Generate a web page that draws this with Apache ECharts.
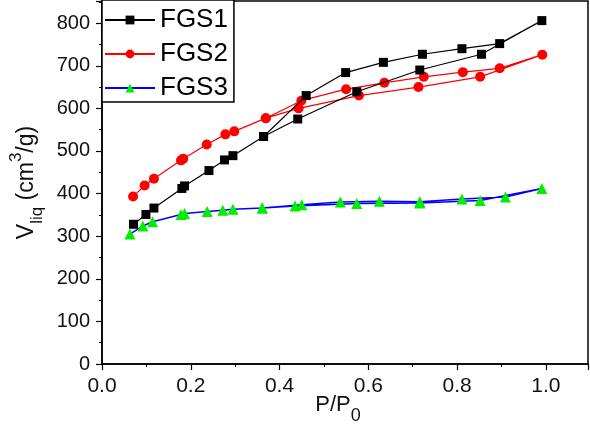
<!DOCTYPE html>
<html>
<head>
<meta charset="utf-8">
<script src="https://cdn.jsdelivr.net/npm/echarts@6/dist/echarts.min.js"></script>
<style>
html,body{margin:0;padding:0;background:#fff;}
#chart{width:590px;height:427px;}
</style>
</head>
<body>
<div id="chart"></div>
<script>
// FGS1: adsorption then desorption branch (x = P/P0, y = V_liq)
const fgs1X = [0.071, 0.099, 0.117, 0.180, 0.186, 0.241, 0.276, 0.295, 0.364, 0.441, 0.574, 0.716, 0.855, 0.991, 0.896, 0.811, 0.722, 0.634, 0.549, 0.460, 0.364];
const fgs1Y = [328, 351, 366, 412, 418, 454, 479, 489, 534, 575, 639, 690, 727, 806, 752, 740, 727, 708, 684, 630, 534];
const fgs2X = [0.070, 0.096, 0.117, 0.178, 0.183, 0.236, 0.278, 0.298, 0.369, 0.443, 0.579, 0.713, 0.852, 0.992, 0.896, 0.813, 0.725, 0.636, 0.550, 0.449, 0.369];
const fgs2Y = [393, 419, 435, 478, 482, 515, 539, 546, 577, 600, 630, 650, 674, 726, 694, 685, 674, 660, 645, 618, 577];
const fgs3X = [0.063, 0.092, 0.114, 0.178, 0.186, 0.237, 0.272, 0.295, 0.361, 0.435, 0.574, 0.716, 0.852, 0.991, 0.909, 0.811, 0.716, 0.625, 0.537, 0.450, 0.361];
const fgs3Y = [305, 324, 334, 351, 353, 358, 361, 363, 366, 371, 377, 378, 384, 412, 392, 387, 381, 382, 380, 374, 366];
const seriesNames = ['FGS1', 'FGS2', 'FGS3'];
const xTickLabels = ['0.0', '0.2', '0.4', '0.6', '0.8', '1.0'];

function pairs(xs, ys) { return xs.map((x, i) => [x, ys[i]]); }

const chart = echarts.init(document.getElementById('chart'), null, {renderer: 'canvas'});
const font = 'Liberation Sans, Arial, sans-serif';
const axisCommon = {
  axisLine: {show: true, onZero: false, lineStyle: {color: '#000', width: 1.5}},
  axisTick: {show: true, inside: false, length: 6, lineStyle: {color: '#000', width: 1.2}},
  minorTick: {show: true, splitNumber: 2, length: 3, lineStyle: {color: '#000', width: 1}},
  splitLine: {show: false},
  nameMoveOverlap: false
};
chart.setOption({
  animation: false,
  backgroundColor: '#fff',
  grid: {left: 102, right: 2, top: 1, bottom: 63, containLabel: false, outerBoundsMode: 'none',
    show: true, borderColor: '#000', borderWidth: 1.5, backgroundColor: 'transparent'},
  legend: {
    left: 102, top: 0, z: 10,
    orient: 'vertical',
    data: seriesNames,
    itemWidth: 50, itemHeight: 11, itemGap: 8,
    padding: [7, 6, 1, 2],
    borderColor: '#000', borderWidth: 1.5, borderRadius: 0,
    backgroundColor: '#fff',
    textStyle: {fontSize: 26, color: '#000', fontFamily: font}
  },
  xAxis: Object.assign({}, axisCommon, {
    type: 'value', min: 0, max: 1.095, interval: 0.2,
    axisLabel: {fontSize: 21, color: '#111', fontFamily: font, margin: 12, showMaxLabel: false,
      formatter: v => { const i = Math.round(v / 0.2); return Math.abs(v - i * 0.2) < 1e-6 ? xTickLabels[i] : ''; }},
    name: 'P/P{sub|0}', nameLocation: 'middle', nameGap: 21,
    nameTextStyle: {color: '#111', fontFamily: font, fontSize: 22, padding: [0, 14, 0, 0], lineHeight: 40,
      rich: {sub: {fontSize: 18, verticalAlign: 'bottom', lineHeight: 20, fontFamily: font, color: '#111'}}}
  }),
  yAxis: Object.assign({}, axisCommon, {
    type: 'value', min: 0, max: 852, interval: 100,
    axisLabel: {fontSize: 20, color: '#111', fontFamily: font, margin: 12, showMaxLabel: false},
    name: 'V{sub|liq} (cm{sup|3}/g)', nameLocation: 'middle', nameGap: 56, nameRotate: 90,
    nameTextStyle: {color: '#111', fontFamily: font, fontSize: 23, lineHeight: 38, padding: [0, 0, 0, 0],
      rich: {
        sub: {fontSize: 17, verticalAlign: 'bottom', lineHeight: 22, fontFamily: font, color: '#111'},
        sup: {fontSize: 17, verticalAlign: 'top', lineHeight: 18, fontFamily: font, color: '#111'}
      }}
  }),
  series: [
    {name: seriesNames[0], type: 'line', data: pairs(fgs1X, fgs1Y), symbol: 'rect', symbolSize: 9,
      lineStyle: {color: '#000', width: 1.2}, itemStyle: {color: '#000'}, z: 3},
    {name: seriesNames[1], type: 'line', data: pairs(fgs2X, fgs2Y), symbol: 'circle', symbolSize: 10,
      lineStyle: {color: '#ff0000', width: 1.2}, itemStyle: {color: '#ff0000'}, z: 2},
    {name: seriesNames[2], type: 'line', data: pairs(fgs3X, fgs3Y), symbol: 'triangle', symbolSize: 11,
      lineStyle: {color: '#0000ff', width: 1.5}, itemStyle: {color: '#00ee00'}, z: 4}
  ]
});
</script>
</body>
</html>
